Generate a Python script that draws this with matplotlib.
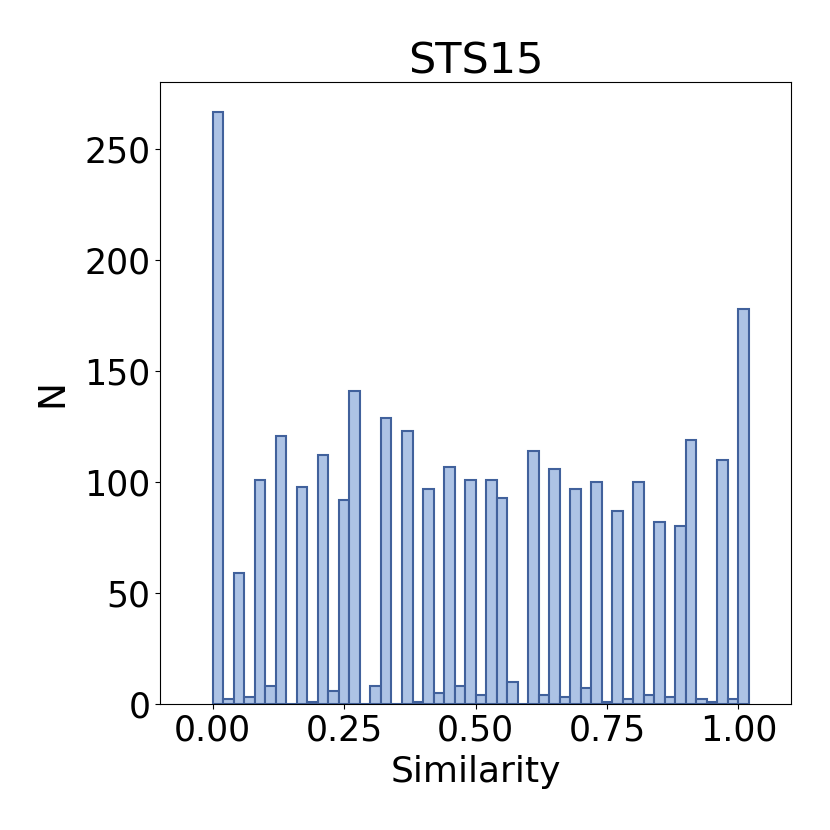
import numpy as np
import matplotlib
matplotlib.use("Agg")
import matplotlib.pyplot as plt

# Histogram bin edges (bin width 0.02, from 0 to 1.02)
bin_edges = np.round(np.arange(0, 1.0201, 0.02), 2)

# Counts per bin
counts = [
    267, 2, 59, 3, 101, 8, 121, 0, 98, 1,
    112, 6, 92, 141, 0, 8, 129, 0, 123, 1,
    97, 5, 107, 8, 101, 4, 101, 93, 10, 0,
    114, 4, 106, 3, 97, 7, 100, 1, 87, 2,
    100, 4, 82, 3, 80, 119, 2, 1, 110, 2,
    178,
]

titulo = "STS15"
rotulo_x = "Similarity"
rotulo_y = "N"

fig = plt.figure(figsize=(8.3, 8.3), dpi=100)
ax = fig.add_axes([0.193, 0.152, 0.760, 0.749])

ax.hist(
    bin_edges[:-1],
    bins=bin_edges,
    weights=counts,
    facecolor="#adc3e5",
    edgecolor="#41619c",
    linewidth=1.5,
)

ax.set_xlim(-0.1, 1.1)
ax.set_xticks([0.0, 0.25, 0.5, 0.75, 1.0])
ax.set_xticklabels(["0.00", "0.25", "0.50", "0.75", "1.00"])
ax.set_yticks([0, 50, 100, 150, 200, 250])
ax.tick_params(labelsize=25)

ax.set_title(titulo, fontsize=31)
ax.set_xlabel(rotulo_x, fontsize=26, labelpad=5)
ax.set_ylabel(rotulo_y, fontsize=27, labelpad=10)

plt.savefig("out.png", dpi=100)
